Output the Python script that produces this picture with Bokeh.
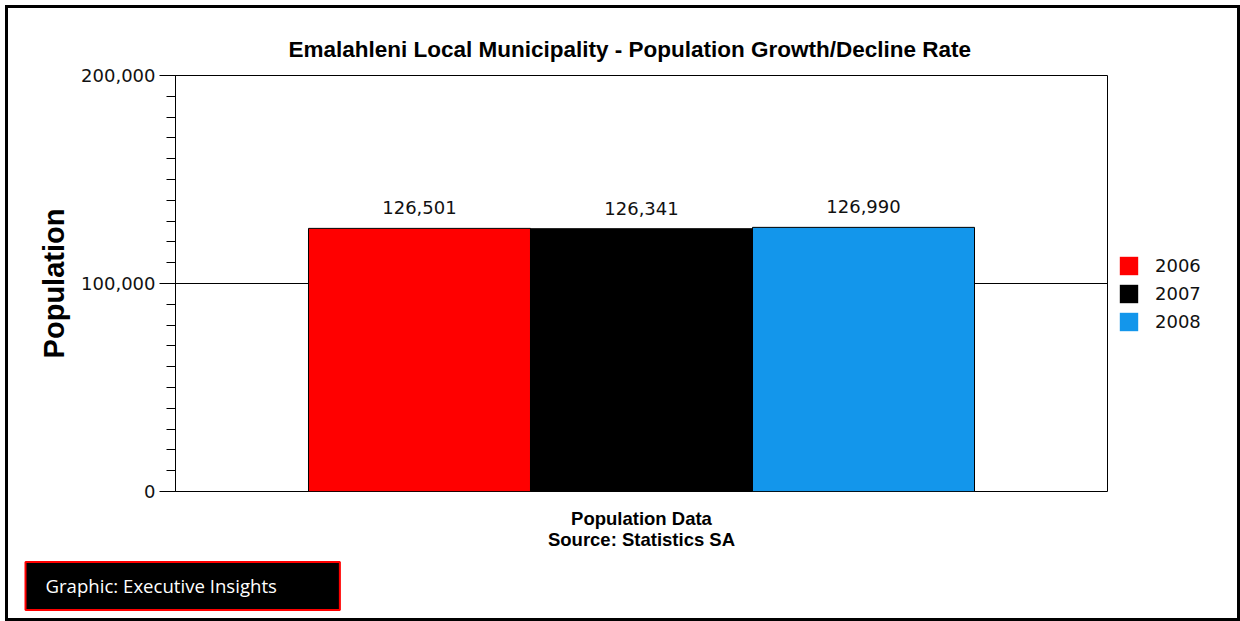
from bokeh.plotting import figure
from bokeh.layouts import row
from bokeh.models import (Range1d, FactorRange, FixedTicker, NumeralTickFormatter,
                          ColumnDataSource, LabelSet, Title, Legend, LegendItem)
from bokeh.transform import dodge
from bokeh.core.properties import value
from bokeh.embed import file_html
from bokeh.resources import INLINE

# ---- data ----
category = ["Population Data"]
years = ["2006", "2007", "2008"]
population = [126501, 126341, 126990]
colors = ["#FF0000", "#000000", "#1396EB"]
y_ticks = [0, 100000, 200000]
y_minor = list(range(0, 200001, 10000))

title_text = "Emalahleni Local Municipality - Population Growth/Decline Rate"
x_title = "Population Data"
source_text = "Source: Statistics SA"
credit_text = "Graphic: Executive Insights"

BAR_W = 0.2382
H = 610

p = figure(width=1100, height=H,
           x_range=FactorRange(factors=category),
           y_range=Range1d(0, 200000),
           output_backend="svg", toolbar_location=None,
           min_border_left=167, min_border_right=1,
           min_border_top=67, min_border_bottom=127)
p.background_fill_color = "white"
p.border_fill_color = "white"
p.outline_line_color = "black"
p.outline_line_width = 1
p.outline_line_alpha = 1

# legend-only panel on the right
lg = figure(width=129, height=H, x_range=p.x_range, y_range=p.y_range,
            output_backend="svg", toolbar_location=None, min_border=0,
            x_axis_type=None, y_axis_type=None)
lg.title = None
lg.outline_line_color = None
lg.background_fill_color = "white"
lg.border_fill_color = "white"

items = []
for i, (yr, val, col) in enumerate(zip(years, population, colors)):
    src = ColumnDataSource(dict(x=category, top=[val], lab=[f"{val:,}"]))
    off = (i - 1) * BAR_W
    p.vbar(x=dodge("x", off, range=p.x_range), top="top", width=BAR_W,
           source=src, fill_color=col, line_color="black", line_width=1)
    p.add_layout(LabelSet(x=dodge("x", off, range=p.x_range), y="top", text="lab",
                          source=src, text_align="center", text_baseline="bottom",
                          y_offset=14, text_font=value("DejaVu Sans"),
                          text_font_size="18px", text_color="#111111"))
    r2 = lg.vbar(x=dodge("x", off, range=p.x_range), top="top", width=BAR_W,
                 source=src, fill_color=col, line_color=None, visible=False)
    items.append(LegendItem(label=yr, renderers=[r2]))

legend = Legend(items=items, location=(9, 158), orientation="vertical",
                glyph_width=23, glyph_height=23, label_height=23, spacing=5,
                label_standoff=15, padding=0, margin=0,
                label_text_font="DejaVu Sans", label_text_font_size="18px",
                label_text_color="#111111", border_line_color=None,
                background_fill_alpha=0, inactive_fill_alpha=0)
lg.add_layout(legend, "center")

# x axis: no ticks, only the centred two-line label
xax = p.xaxis[0]
xax.ticker = FixedTicker(ticks=[])
xax.axis_line_color = None
xax.major_tick_line_color = None
xax.minor_tick_line_color = None
xax.major_tick_out = 0
xax.major_label_standoff = 0
xax.axis_label = x_title + "\n" + source_text
xax.axis_label_text_font = "Liberation Sans"
xax.axis_label_text_font_style = "bold"
xax.axis_label_text_font_size = "18.5px"
xax.axis_label_text_line_height = 1.0
xax.axis_label_text_color = "black"
xax.axis_label_standoff = 16
p.xgrid.visible = False

yax = p.yaxis[0]
yax.ticker = FixedTicker(ticks=y_ticks, minor_ticks=y_minor)
yax.formatter = NumeralTickFormatter(format="0,0")
yax.major_tick_out = 16
yax.major_tick_in = 0
yax.minor_tick_out = 9
yax.minor_tick_in = 0
yax.major_tick_line_color = "black"
yax.minor_tick_line_color = "black"
yax.axis_line_color = "black"
yax.major_label_standoff = 4
yax.major_label_text_font = "DejaVu Sans"
yax.major_label_text_font_size = "18px"
yax.major_label_text_color = "#111111"
yax.axis_label = "Population"
yax.axis_label_text_font = "Liberation Sans"
yax.axis_label_text_font_style = "bold"
yax.axis_label_text_font_size = "29px"
yax.axis_label_text_color = "black"
yax.axis_label_standoff = 8

p.ygrid.ticker = FixedTicker(ticks=[100000])
p.ygrid.grid_line_color = "black"
p.ygrid.grid_line_alpha = 1
p.ygrid.grid_line_width = 1

# title
p.title = Title(text=title_text, align="left", offset=113, standoff=28,
                text_font="Liberation Sans", text_font_style="bold",
                text_font_size="22.5px", text_color="black")

# credit box
p.add_layout(Title(text=credit_text, align="left", offset=-150, standoff=15,
                   text_font="Open Sans", text_font_style="normal",
                   text_font_size="18.6px",
                   text_color="white", background_fill_color="black",
                   border_line_color="red", border_line_width=2,
                   padding=dict(left=20, right=63, top=11, bottom=12)), "below")

layout = row(p, lg, spacing=0,
             styles={"border": "3px solid black", "margin": "5px 0px 0px 5px"})

open("out.html", "w").write(file_html(layout, INLINE))
